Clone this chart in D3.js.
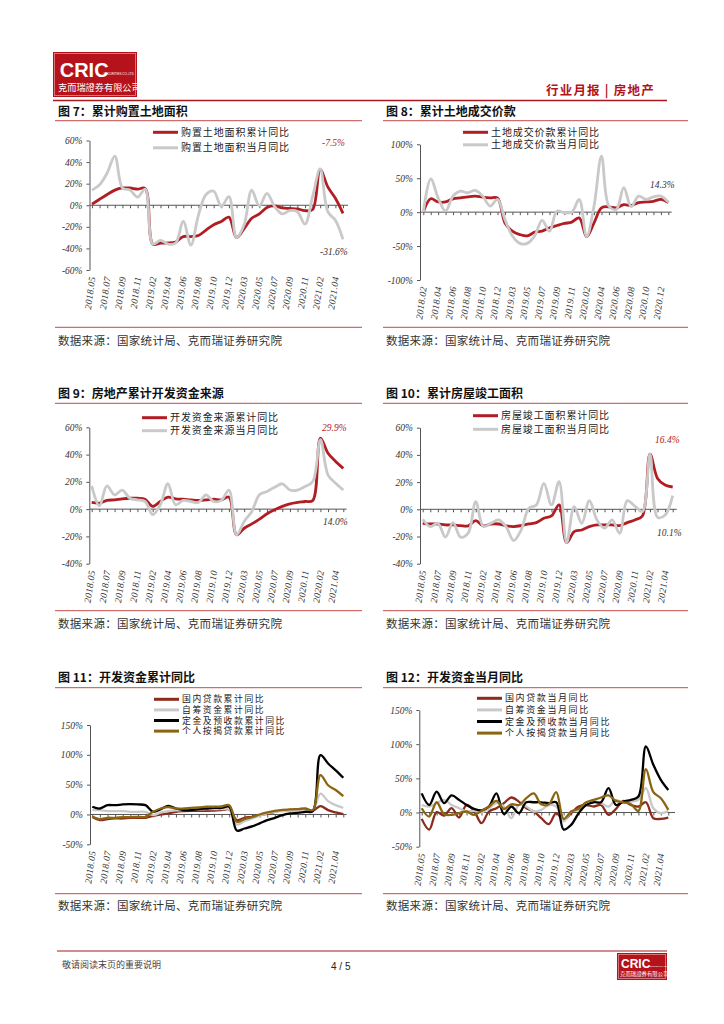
<!DOCTYPE html>
<meta charset="utf-8">
<script src="https://d3js.org/d3.v7.min.js"></script>
<style>
  body { margin: 0; background: #fff; }
  text { font-family: "Noto Sans CJK SC", sans-serif; }
</style>
<div id="page"></div>
<script>
// monthly categories (Jan merged into Feb)
var monthsA = ["2018.05","2018.06","2018.07","2018.08","2018.09","2018.10","2018.11","2018.12",
  "2019.02","2019.03","2019.04","2019.05","2019.06","2019.07","2019.08","2019.09","2019.10","2019.11","2019.12",
  "2020.02","2020.03","2020.04","2020.05","2020.06","2020.07","2020.08","2020.09","2020.10","2020.11","2020.12",
  "2021.02","2021.03","2021.04","2021.05"];
var monthsB = ["2018.02","2018.03","2018.04","2018.05","2018.06","2018.07","2018.08","2018.09","2018.10","2018.11","2018.12",
  "2019.02","2019.03","2019.04","2019.05","2019.06","2019.07","2019.08","2019.09","2019.10","2019.11","2019.12",
  "2020.02","2020.03","2020.04","2020.05","2020.06","2020.07","2020.08","2020.09","2020.10","2020.11","2020.12",
  "2021.02"];

// tick labels (every second month)
var ticksA = ["2018.05","2018.07","2018.09","2018.11","2019.02","2019.04","2019.06","2019.08","2019.10","2019.12",
  "2020.03","2020.05","2020.07","2020.09","2020.11","2021.02","2021.04"];
var ticks9 = ["2018.05","2018.07","2018.09","2018.11","2019.02","2019.04","2019.06","2019.08","2019.10","2019.12",
  "2020.03","2020.05","2020.07","2020.09","2020.11","2020.02","2021.04"];
var ticksB = ["2018.02","2018.04","2018.06","2018.08","2018.10","2018.12","2019.03","2019.05","2019.07","2019.09",
  "2019.11","2020.02","2020.04","2020.06","2020.08","2020.10","2020.12"];

var yTicks7 = [-60, -40, -20, 0, 20, 40, 60];
var yTicks8 = [-100, -50, 0, 50, 100];
var yTicks9 = [-40, -20, 0, 20, 40, 60];
var yTicks11 = [-50, 0, 50, 100, 150];

// fig 7
var land7Cum = [1,5.6,10,14,16,16,15,15.5, -36,-35,-35,-34,-29,-29,-28,-23,-18,-15,-11,
  -30,-21.6,-12,-8,-2,-0.5,-2.5,-3,-3.4,-5,-4, 33,17,6.5,-7.5];
var land7Mon = [14,19,30,45.6,16,14,7.5,15, -36,-32.5,-36,-35,-15,-37,-9,10,13,-1,8,
  -30,-18,14,-0.5,11,-1,-8,-5,-6,-17.5,8, 33.8,-6,-14,-31.6];
// fig 8
var price8Cum = [0,19.7,15,15,19.7,21,22.6,23.6,22,21,20.6, -16,-28,-33,-35,-29.5,-28,-23,-19.7,-16.7,-14.7,-8.4,
  -36,-15.7,6.4,7.9,6.4,11,10,14,15,16,18.7, 14.3];
var price8Mon = [0,49,21,1.5,23.6,31,28.5,32,23.6,9,18.7, -11,-35,-46,-46,-35,-12,-28,1.5,-1,0,18.7,
  -36,9,82.6,9,4,36,8,23.6,18.7,22.6,23.6, 14.7];
// fig 9
var fund9Cum = [4.9,4.4,6.4,6.8,7.6,8,8,7.3, 2,5.6,8.8,7.6,7.3,6.8,6.4,6.8,7.3,6.8,8.8,
  -18.8,-14,-10.8,-7.3,-3.4,-0.5,2,3.9,4.9,5.6,6.4, 52,41,35,29.9];
var fund9Mon = [17,2.4,17,10.5,14,8,6.8,5.6, -4,3.2,18.6,3.2,6.4,5.6,4.9,10.5,5.6,6.4,14,
  -18.8,-9,-1.7,10.5,13,16,18.6,14,14,16.6,20.3, 51,25,19,14];
// fig 10
var comp10Cum = [-10.3,-10.8,-10.8,-11.5,-11.5,-12,-12.2,-8.3, -12.2,-10.8,-10.8,-12.2,-12.7,-12,-10.8,-9.8,-6.6,-4.9,3.2,
  -24.5,-16.4,-15.2,-12.7,-11.5,-11.5,-11.5,-12,-9.8,-7.8,-4.9, 40.6,22.7,17.8,16.4];
var comp10Mon = [-7.3,-12.7,-10.3,-20.5,-9.8,-20.5,-17.6,5.6, -12.7,-10.3,-7.8,-12.7,-23,-15.2,0.7,3.2,19,3.2,20.3,
  -24.5,2,-10.3,6.4,-7.8,-13.9,-7.8,-17.6,6.4,2.4,-1.7, 40.6,-5.9,-4.2,10.1];
// fig 11
var loan11 = [-3.9,-9.5,-7.8,-6.7,-6.7,-5.6,-5.6,-5.6, -2.2,0,1.7,4.5,5.6,6,6,6,6.7,7.3,8.4,
  -9.5,-5.6,-3.9,-1.1,1.1,4.5,6.7,7.8,9,9,6.7, 14,7.3,3.4,0.6];
var self11 = [7.3,7.3,5.6,5.6,5.6,4.5,4.5,4.5, -1.1,3.4,5.6,6.7,7.8,7.8,8.4,9,9,9,9,
  -16.8,-11.2,-6.7,-2.2,2.2,4.5,5.6,6,6.7,7.8,6.7, 35,22.3,15.6,11.2];
var deposit11 = [13,10,15.6,15.6,16.8,17.3,16.8,15.6, 4.5,9,14.5,10,7.3,7.3,9,10,11,11,13,
  -27,-23.5,-20,-15,-9.5,-5.6,-1,1.7,2.8,4.5,5.6, 99.4,85.5,74,61.5];
var mortgage11 = [-3.9,-7.8,-5.6,-5.6,-4.5,-4.5,-3.9,-3.9, 4.5,10,12.3,10,10,11,11.7,13,13,13.4,15.6,
  -12.3,-7.8,-4.5,0,3.4,6,7.8,8.4,9,10,7.3, 66,49,41,30.7];
// fig 12
var loan12 = [-9.3,-25,0.5,-4.4,6.3,-7.3,11,2.4, -15.6,1.5,6.3,13.7,22,16,6.3,1.5,-8.3,-17,-1,
  -10.7,-1,8.8,11,8.8,11,-3.4,5.4,17,11,8.8, 15,-8.3,-9.3,-7.3];
var self12 = [11,8.8,13.7,18.5,11,6.3,1.5,2.4, 0.5,6.3,13.7,8.8,-8.3,11,8.8,1.5,3.9,11,8.8,
  -13,1.5,3.9,11,16,13.7,8.8,18.5,13.7,16,18.5, 35.6,6.3,-1,2.4];
var deposit12 = [28,11,30.7,13.7,25,18.5,11,5.4, 3,8.8,28,-2.4,8.8,-1,15,15,15,13.7,15,
  -25,-18,-1,11,15,15,35.6,11,16,18.5,23.4, 96.6,69.8,47.8,33];
var mortgage12 = [6.3,-5.9,15,-2.4,-3.4,-1,1.5,-3.4, 2.4,8.8,17,5.4,12,11,21,28,12,12,29.8,
  -9.3,1.5,5.4,15,18.5,22,25,17,15,12.2,2.4, 63.4,29.8,21,3.9];

var RED = "#b01e24", GRAY = "#c9c9c9", DARKRED = "#8c2a1b", GOLD = "#8a6612", BLACK = "#000";
var RULE = "#c44a4a";
var SOURCE = "数据来源：国家统计局、克而瑞证券研究院";

var svg = d3.select("#page").append("svg")
    .attr("width", 724)
    .attr("height", 1024);
svg.append("rect").attr("width", 724).attr("height", 1024).attr("fill", "#fff");

// ---- header ----
function logo(x, y, w, h, big) {
  var g = svg.append("g").attr("transform", "translate(" + x + "," + y + ")");
  g.append("rect").attr("width", w).attr("height", h).attr("fill", "#b5121b");
  g.append("rect").attr("x", 1.5).attr("y", 1.5).attr("width", w - 3).attr("height", h - 3)
    .attr("fill", "none").attr("stroke", "#e58a8a").attr("stroke-width", 0.8);
  g.append("text").attr("x", w * 0.08).attr("y", h * 0.55)
    .style("font-family", "Arial, 'Liberation Sans'").attr("font-weight", "bold")
    .attr("font-size", big ? 20 : 12).attr("fill", "#fff").text("CRIC");
  g.append("text").attr("x", w * 0.6).attr("y", h * 0.52)
    .style("font-family", "Arial, 'Liberation Sans'")
    .attr("font-size", big ? 3 : 2).attr("fill", "#fff").text("SECURITIES CO.,LTD");
  g.append("text").attr("x", w * 0.06).attr("y", h * 0.86)
    .attr("font-size", big ? 9.2 : 5.4).attr("fill", "#fff").text("克而瑞證券有限公司");
}
logo(53, 52, 84, 45, true);
svg.append("text").attr("x", 546).attr("y", 95).attr("font-size", 12.5).attr("letter-spacing", 1.2)
  .attr("fill", "#b5121b").attr("font-weight", "bold").text("行业月报 | 房地产");
svg.append("line").attr("x1", 53).attr("x2", 667).attr("y1", 100.5).attr("y2", 100.5)
  .attr("stroke", "#a8181f").attr("stroke-width", 1.4);

// ---- footer ----
svg.append("line").attr("x1", 57).attr("x2", 667).attr("y1", 951).attr("y2", 951)
  .attr("stroke", "#a8181f").attr("stroke-width", 1);
svg.append("text").attr("x", 62).attr("y", 968).attr("font-size", 9).attr("fill", "#444")
  .text("敬请阅读末页的重要说明");
svg.append("text").attr("x", 331).attr("y", 970).attr("font-size", 10).attr("fill", "#222")
  .style("font-family", "Arial, 'Liberation Sans'").text("4 / 5");
logo(617, 953, 50, 27, false);

// ---- one chart panel ----
function drawPanel(o) {
  var g = svg.append("g");

  g.append("text").attr("x", o.left + 3).attr("y", o.titleY)
    .attr("font-size", 12).attr("font-weight", "bold").attr("fill", "#111").text(o.title);
  g.append("line").attr("x1", o.left).attr("x2", o.right).attr("y1", o.ruleTop).attr("y2", o.ruleTop)
    .attr("stroke", RULE).attr("stroke-width", 1);
  g.append("line").attr("x1", o.left).attr("x2", o.right).attr("y1", o.ruleBottom).attr("y2", o.ruleBottom)
    .attr("stroke", RULE).attr("stroke-width", 1);
  g.append("text").attr("x", o.left + 3).attr("y", o.sourceY)
    .attr("font-size", 11.5).attr("fill", "#333").attr("letter-spacing", 0.3).text(SOURCE);

  var x = d3.scalePoint().domain(d3.range(o.categories.length)).range([o.xStart, o.xEnd]);
  var y = d3.scaleLinear().domain(o.yDomain).range([o.yBottom, o.yTop]);

  // y axis
  var ya = g.append("g").attr("transform", "translate(" + o.axisX + ",0)")
    .call(d3.axisLeft(y).tickValues(o.yTicks).tickSize(3).tickSizeOuter(0).tickPadding(4)
      .tickFormat(function(d) { return d + "%"; }));
  ya.select(".domain").attr("stroke", "#555");
  ya.selectAll(".tick line").attr("stroke", "#555");
  ya.selectAll(".tick text").style("font-family", "'Liberation Serif', serif")
    .style("font-style", "italic").attr("font-size", 9.5).attr("fill", "#333");

  // x axis on the zero line
  var xa = g.append("g").attr("transform", "translate(0," + y(0) + ")")
    .call(d3.axisBottom(x).tickSize(3).tickFormat(""));
  xa.select(".domain").remove();
  xa.selectAll(".tick line").attr("stroke", "#555");
  g.append("line").attr("x1", o.axisX).attr("x2", o.axisEnd).attr("y1", y(0)).attr("y2", y(0))
    .attr("stroke", "#555").attr("stroke-width", 1);

  // rotated month labels at the bottom
  g.selectAll(".mlab").data(o.tickLabels).enter().append("text")
    .attr("class", "mlab")
    .attr("transform", function(d, i) {
      return "translate(" + (x(i * 2) + 3.5) + "," + (o.yBottom + 7) + ") rotate(-82)";
    })
    .attr("text-anchor", "end")
    .style("font-family", "'Liberation Serif', serif").style("font-style", "italic")
    .attr("font-size", 9.5).attr("letter-spacing", 0.3).attr("fill", "#333")
    .text(function(d) { return d; });

  // series
  var line = d3.line()
    .x(function(d, i) { return x(i); })
    .y(function(d) { return y(d); })
    .curve(d3.curveCatmullRom.alpha(0.5));
  o.series.forEach(function(s) {
    g.append("path").datum(s.values)
      .attr("d", line)
      .attr("fill", "none")
      .attr("stroke", s.color)
      .attr("stroke-width", s.width)
      .attr("stroke-linejoin", "round");
  });

  // legend
  o.series.forEach(function(s, i) {
    var ly = o.legend.y + i * o.legend.dy;
    g.append("line").attr("x1", o.legend.x).attr("x2", o.legend.x + 25).attr("y1", ly).attr("y2", ly)
      .attr("stroke", s.color).attr("stroke-width", 3);
    g.append("text").attr("x", o.legend.x + 28).attr("y", ly + o.legend.fs * 0.35)
      .attr("font-size", o.legend.fs).attr("letter-spacing", o.legend.ls)
      .attr("fill", "#222").text(s.name);
  });

  // end-value notes
  (o.notes || []).forEach(function(n) {
    g.append("text").attr("x", n.x).attr("y", n.y)
      .style("font-family", "'Liberation Serif', serif").style("font-style", "italic")
      .attr("font-size", 9.5).attr("fill", n.color).text(n.text);
  });
}

drawPanel({
  title: "图 7：累计购置土地面积", left: 55, right: 362, titleY: 116, ruleTop: 120.7, ruleBottom: 327.3, sourceY: 344.5,
  categories: monthsA, tickLabels: ticksA,
  axisX: 89.5, axisEnd: 348, xStart: 92, xEnd: 343,
  yDomain: [-60, 60], yTicks: yTicks7, yTop: 140.5, yBottom: 270,
  series: [
    {name: "购置土地面积累计同比", values: land7Cum, color: RED, width: 2.8},
    {name: "购置土地面积当月同比", values: land7Mon, color: GRAY, width: 2.8}
  ],
  legend: {x: 153, y: 132.3, dy: 15.5, fs: 10, ls: 0.9},
  notes: [{text: "-7.5%", x: 322, y: 146, color: RED}, {text: "-31.6%", x: 320, y: 255, color: "#333"}]
});

drawPanel({
  title: "图 8：累计土地成交价款", left: 383, right: 688, titleY: 116, ruleTop: 120.7, ruleBottom: 327.3, sourceY: 344.5,
  categories: monthsB, tickLabels: ticksB,
  axisX: 420, axisEnd: 671.7, xStart: 423.3, xEnd: 668.3,
  yDomain: [-100, 100], yTicks: yTicks8, yTop: 144.3, yBottom: 280,
  series: [
    {name: "土地成交价款累计同比", values: price8Cum, color: RED, width: 2.8},
    {name: "土地成交价款当月同比", values: price8Mon, color: GRAY, width: 2.8}
  ],
  legend: {x: 463, y: 132.3, dy: 12.5, fs: 10, ls: 0.9},
  notes: [{text: "14.3%", x: 650, y: 188, color: "#333"}]
});

drawPanel({
  title: "图 9：房地产累计开发资金来源", left: 55, right: 362, titleY: 398, ruleTop: 403.3, ruleBottom: 610.7, sourceY: 627.5,
  categories: monthsA, tickLabels: ticks9,
  axisX: 89.3, axisEnd: 346.7, xStart: 91.7, xEnd: 343.3,
  yDomain: [-40, 60], yTicks: yTicks9, yTop: 427.3, yBottom: 563.7,
  series: [
    {name: "开发资金来源累计同比", values: fund9Cum, color: RED, width: 2.8},
    {name: "开发资金来源当月同比", values: fund9Mon, color: GRAY, width: 2.8}
  ],
  legend: {x: 142, y: 417.7, dy: 13, fs: 10, ls: 0.9},
  notes: [{text: "29.9%", x: 322, y: 431, color: RED}, {text: "14.0%", x: 323, y: 525, color: "#333"}]
});

drawPanel({
  title: "图 10：累计房屋竣工面积", left: 383, right: 688, titleY: 398, ruleTop: 403.3, ruleBottom: 610.7, sourceY: 627.5,
  categories: monthsA, tickLabels: ticksA,
  axisX: 420, axisEnd: 676.7, xStart: 422.7, xEnd: 672.7,
  yDomain: [-40, 60], yTicks: yTicks9, yTop: 427.7, yBottom: 563.7,
  series: [
    {name: "房屋竣工面积累计同比", values: comp10Cum, color: RED, width: 2.8},
    {name: "房屋竣工面积当月同比", values: comp10Mon, color: GRAY, width: 2.8}
  ],
  legend: {x: 473, y: 415.7, dy: 13.6, fs: 10, ls: 0.9},
  notes: [{text: "16.4%", x: 655, y: 443, color: RED}, {text: "10.1%", x: 657, y: 536, color: "#333"}]
});

drawPanel({
  title: "图 11：开发资金累计同比", left: 55, right: 362, titleY: 682, ruleTop: 687.7, ruleBottom: 893.7, sourceY: 909.5,
  categories: monthsA, tickLabels: ticksA,
  axisX: 90, axisEnd: 346.7, xStart: 92.3, xEnd: 343.3,
  yDomain: [-50, 150], yTicks: yTicks11, yTop: 725, yBottom: 844.3,
  series: [
    {name: "国内贷款累计同比", values: loan11, color: DARKRED, width: 2.3},
    {name: "自筹资金累计同比", values: self11, color: GRAY, width: 2.3},
    {name: "定金及预收款累计同比", values: deposit11, color: BLACK, width: 2.3},
    {name: "个人按揭贷款累计同比", values: mortgage11, color: GOLD, width: 2.3}
  ],
  legend: {x: 154, y: 699.3, dy: 10.6, fs: 8.8, ls: 1.6}
});

drawPanel({
  title: "图 12：开发资金当月同比", left: 383, right: 688, titleY: 682, ruleTop: 687.7, ruleBottom: 893.7, sourceY: 909.5,
  categories: monthsA, tickLabels: ticksA,
  axisX: 419.3, axisEnd: 675, xStart: 421.7, xEnd: 668.3,
  yDomain: [-50, 150], yTicks: yTicks11, yTop: 710, yBottom: 846.7,
  series: [
    {name: "国内贷款当月同比", values: loan12, color: DARKRED, width: 2.3},
    {name: "自筹资金当月同比", values: self12, color: GRAY, width: 2.3},
    {name: "定金及预收款当月同比", values: deposit12, color: BLACK, width: 2.3},
    {name: "个人按揭贷款当月同比", values: mortgage12, color: GOLD, width: 2.3}
  ],
  legend: {x: 477, y: 698.3, dy: 11.6, fs: 9, ls: 1.6}
});
</script>
